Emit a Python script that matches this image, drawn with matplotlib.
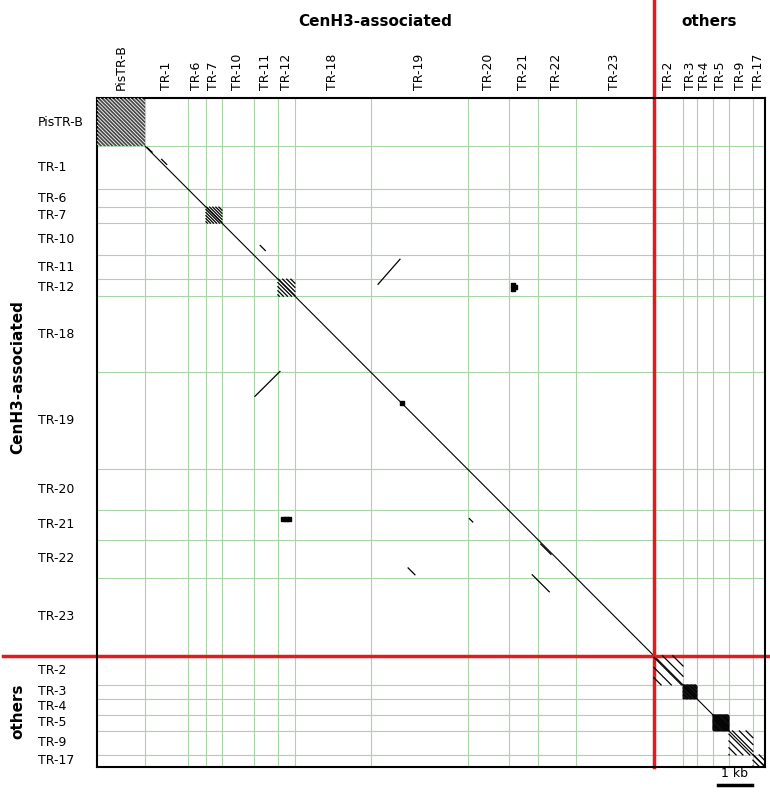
import matplotlib.pyplot as plt
import numpy as np

# repeat names and approximate lengths (bp), in plot order
names = ["PisTR-B", "TR-1", "TR-6", "TR-7", "TR-10", "TR-11", "TR-12", "TR-18",
         "TR-19", "TR-20", "TR-21", "TR-22", "TR-23",
         "TR-2", "TR-3", "TR-4", "TR-5", "TR-9", "TR-17"]
lengths = [1410, 1265, 530, 470, 940, 705, 500, 2235,
           2850, 1205, 855, 1120, 2295,
           855, 410, 470, 470, 705, 355]
n_cenh3 = 13
# monomer periods for repeats that show tandem self-similarity (bp)
monomers = {"PisTR-B": 110, "TR-7": 90, "TR-3": 40, "TR-5": 35, "TR-9": 200, "TR-17": 170,
            "TR-12": 120, "TR-2": 300}
# off-diagonal similarity segments: (x0, y0, x1, y1) in bp
segments = [(8265, 5470, 8910, 4735), (4645, 8760, 5380, 8030),
            (1480, 1460, 1620, 1590), (1900, 1800, 2050, 1950),
            (10950, 12350, 11050, 12450), (13050, 13100, 13350, 13400),
            (12800, 14000, 13300, 14500), (4800, 4330, 4950, 4480),
            (9150, 13800, 9350, 14000)]
dots = [(12230, 5500), (12300, 5560), (12230, 5620), (5470, 12350), (5560, 12350),
        (5650, 12350), (8960, 8960)]

edges = np.concatenate([[0], np.cumsum(lengths)])
total = edges[-1]
red_pos = edges[n_cenh3]

fig = plt.figure(figsize=(7.7, 8), dpi=100)
ax = fig.add_axes([97 / 770, 1 - 767 / 800, 668 / 770, 669 / 800])
ax.set_xlim(0, total)
ax.set_ylim(total, 0)
ax.set_xticks([])
ax.set_yticks([])
for s in ax.spines.values():
    s.set_linewidth(1.5)

for e in edges[1:-1]:
    ax.axvline(e, color="#a8d4a8", lw=0.8)
    ax.axhline(e, color="#a8d4a8", lw=0.8)

# main diagonal
ax.plot([0, total], [0, total], color="black", lw=0.8)

# tandem repeat blocks
for name, start, L in zip(names, edges[:-1], lengths):
    if name not in monomers:
        continue
    m = monomers[name]
    dark = name == "PisTR-B"
    if dark:
        ax.add_patch(plt.Rectangle((start, start), L, L, color="#4a4a4a", lw=0, zorder=2))
    for k in np.arange(-L + m, L, m):
        x0 = start + max(0, -k)
        x1 = start + min(L, L - k)
        ax.plot([x0, x1], [x0 + k, x1 + k], color="white" if dark else "black",
                lw=0.6 if dark else 0.9, zorder=3)

for x0, y0, x1, y1 in segments:
    ax.plot([x0, x1], [y0, y1], color="black", lw=0.9)
ax.scatter([d[0] for d in dots], [d[1] for d in dots], s=5, color="black", marker="s")

# red separators
ax.plot([red_pos, red_pos], [total, -total * 0.155], color="#e41a1c", lw=2.5, clip_on=False)
ax.plot([-total * 0.14, total * 1.005], [red_pos, red_pos], color="#e41a1c", lw=2.5, clip_on=False)

# labels
centers = (edges[:-1] + edges[1:]) / 2
for name, c in zip(names, centers):
    ax.text(c, -total * 0.012, name, rotation=90, ha="center", va="bottom", fontsize=9)
    ax.text(-total * 0.088, c, name, ha="left", va="center", fontsize=9)

ax.text(red_pos / 2, -total * 0.115, "CenH3-associated", ha="center", va="center",
        fontsize=11, fontweight="bold")
ax.text((red_pos + total) / 2, -total * 0.115, "others", ha="center", va="center",
        fontsize=11, fontweight="bold")
ax.text(-total * 0.118, red_pos / 2, "CenH3-associated", rotation=90, ha="center", va="center",
        fontsize=11, fontweight="bold")
ax.text(-total * 0.118, (red_pos + total) / 2, "others", rotation=90, ha="center", va="center",
        fontsize=11, fontweight="bold")

# scale bar
bar_end = total * (752 - 97) / 668
ax.plot([bar_end - 1000, bar_end], [total * 1.027, total * 1.027], color="black", lw=2.5,
        clip_on=False)
ax.text(bar_end - 500, total * 1.02, "1 kb", ha="center", va="bottom", fontsize=9)

fig.savefig("out.png", dpi=100)
